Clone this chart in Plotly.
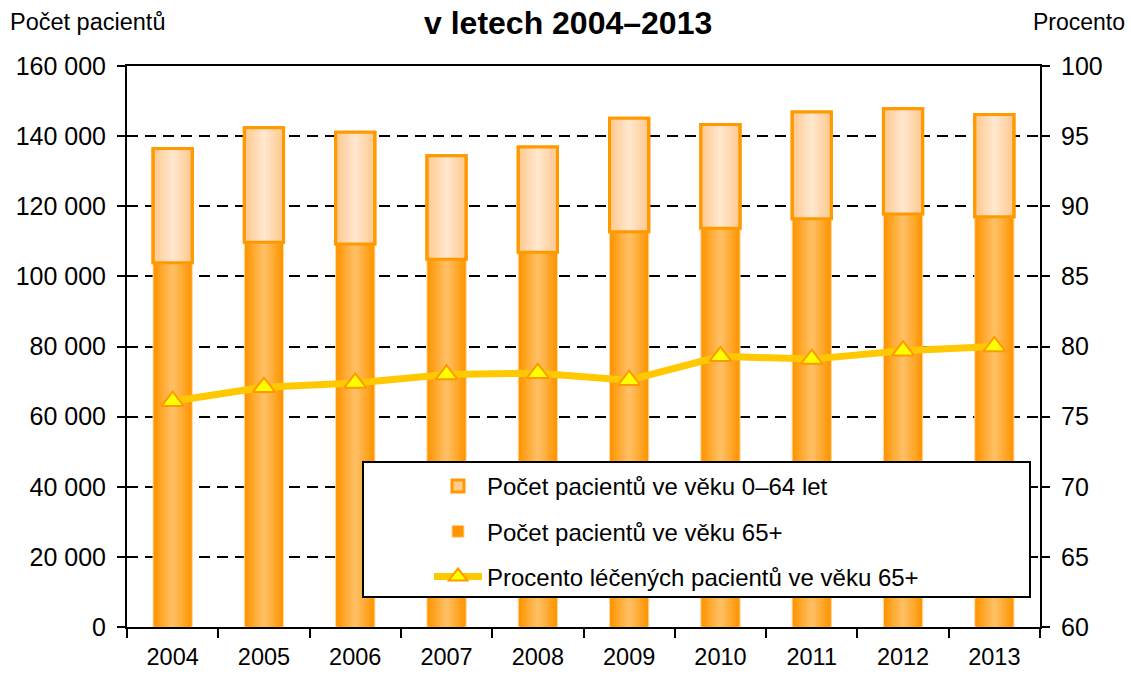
import plotly.graph_objects as go

# ---- data ----
years = ["2004", "2005", "2006", "2007", "2008", "2009", "2010", "2011", "2012", "2013"]
patients_65plus = [103900, 109700, 109200, 104900, 106900, 112700, 113700, 116400, 117800, 117000]
patients_0_64 = [32600, 32700, 31900, 29500, 30000, 32400, 29600, 30500, 30000, 29200]
percent_65plus = [76.1, 77.1, 77.4, 78.0, 78.1, 77.6, 79.3, 79.1, 79.7, 80.0]

name_0_64 = "Počet pacientů ve věku 0–64 let"
name_65 = "Počet pacientů ve věku 65+"
name_pct = "Procento léčených pacientů ve věku 65+"

FONT = "Liberation Sans, Arial, sans-serif"
BAR_W = 0.43
N_STRIPS = 9


def mix(c1, c2, t):
    a = [int(c1[i:i + 2], 16) for i in (1, 3, 5)]
    b = [int(c2[i:i + 2], 16) for i in (1, 3, 5)]
    return "#" + "".join(f"{round(x + (y - x) * t):02X}" for x, y in zip(a, b))


fig = go.Figure()


def add_gradient_bars(values, base, edge, center, name, group, edge_line):
    for k in range(N_STRIPS):
        w = BAR_W * (1 - k / N_STRIPS)
        col = mix(edge, center, k / (N_STRIPS - 1))
        fig.add_trace(go.Bar(
            x=years, y=values, base=base, width=w,
            marker=dict(color=col, line=dict(width=edge_line[1] if k == 0 else 0,
                                             color=edge_line[0])),
            name=name, legendgroup=group, showlegend=(k == 0),
            hoverinfo="skip" if k else None,
        ))


add_gradient_bars(patients_0_64, patients_65plus, "#FFC98F", "#FFE6CC", name_0_64, "a", ("#FF9900", 3))
add_gradient_bars(patients_65plus, [0] * len(years), "#FF9500", "#FFBE62", name_65, "b", ("#FFD8A0", 1))

# outline of the 0–64 segment
fig.add_trace(go.Bar(
    x=years, y=patients_0_64, base=patients_65plus, width=BAR_W,
    marker=dict(color="rgba(0,0,0,0)", line=dict(color="#FF9900", width=3)),
    showlegend=False, legendgroup="a", hoverinfo="skip",
))

fig.add_trace(go.Scatter(
    x=years, y=percent_65plus, yaxis="y2", mode="lines+markers",
    name=name_pct, legendgroup="c",
    line=dict(color="#FFC800", width=7),
    marker=dict(symbol="triangle-up", size=19, color="#FFFF00",
                line=dict(color="#FF9900", width=2)),
))

L, R, T, B = 127, 1040, 66, 627
W, H = 1131, 675
PW, PH = R - L, B - T


def px(x):
    return (x - L) / PW


def py(y):
    return (B - y) / PH


fig.update_layout(
    width=W, height=H,
    margin=dict(l=L, r=W - R, t=T, b=H - B, autoexpand=False),
    paper_bgcolor="white", plot_bgcolor="white",
    barmode="overlay",
    separators=", ",
    font=dict(family=FONT, size=23.5, color="black"),
    showlegend=True,
    legend=dict(
        x=px(429), y=py(464), xanchor="left", yanchor="top",
        bgcolor="rgba(0,0,0,0)", borderwidth=0,
        traceorder="grouped", tracegroupgap=11, itemwidth=48,
        font=dict(family=FONT, size=24, color="black"),
    ),
    xaxis=dict(
        type="category", range=[-0.5, 9.5], automargin=False,
        tickson="boundaries", ticks="outside", ticklen=9, tickwidth=2, tickcolor="black",
        showline=True, linecolor="black", linewidth=2, mirror=True,
        showgrid=False, ticklabelstandoff=8, tickfont=dict(size=23.5),
    ),
    yaxis=dict(
        range=[0, 160000], dtick=20000, tickformat=",d", automargin=False,
        ticks="outside", ticklen=8, tickwidth=2, tickcolor="black",
        showline=True, linecolor="black", linewidth=2,
        showgrid=True, gridcolor="black", gridwidth=2, griddash="11px,7px",
        zeroline=False, ticklabelstandoff=6, tickfont=dict(size=25),
    ),
    yaxis2=dict(
        overlaying="y", side="right", range=[60, 100], dtick=5, automargin=False,
        ticks="outside", ticklen=8, tickwidth=2, tickcolor="black",
        showline=True, linecolor="black", linewidth=2,
        showgrid=False, zeroline=False, ticklabelstandoff=6, tickfont=dict(size=25),
    ),
    shapes=[dict(
        type="rect", xref="paper", yref="paper", layer="above",
        x0=px(363), x1=px(1030), y0=py(597), y1=py(462),
        line=dict(color="black", width=2), fillcolor="white",
    )],
    annotations=[
        dict(text="<b>v letech 2004–2013</b>", xref="paper", yref="paper",
             x=px(568), y=py(23), xanchor="center", yanchor="middle",
             showarrow=False, font=dict(family=FONT, size=32, color="black")),
        dict(text="Počet pacientů", xref="paper", yref="paper",
             x=px(8), y=py(22), xanchor="left", yanchor="middle",
             showarrow=False, font=dict(family=FONT, size=23.5, color="black")),
        dict(text="Procento", xref="paper", yref="paper",
             x=px(1127), y=py(22), xanchor="right", yanchor="middle",
             showarrow=False, font=dict(family=FONT, size=23, color="black")),
    ],
)

fig.write_html("out.html", config={"displayModeBar": False},
               post_script="document.body.style.margin='0';")
